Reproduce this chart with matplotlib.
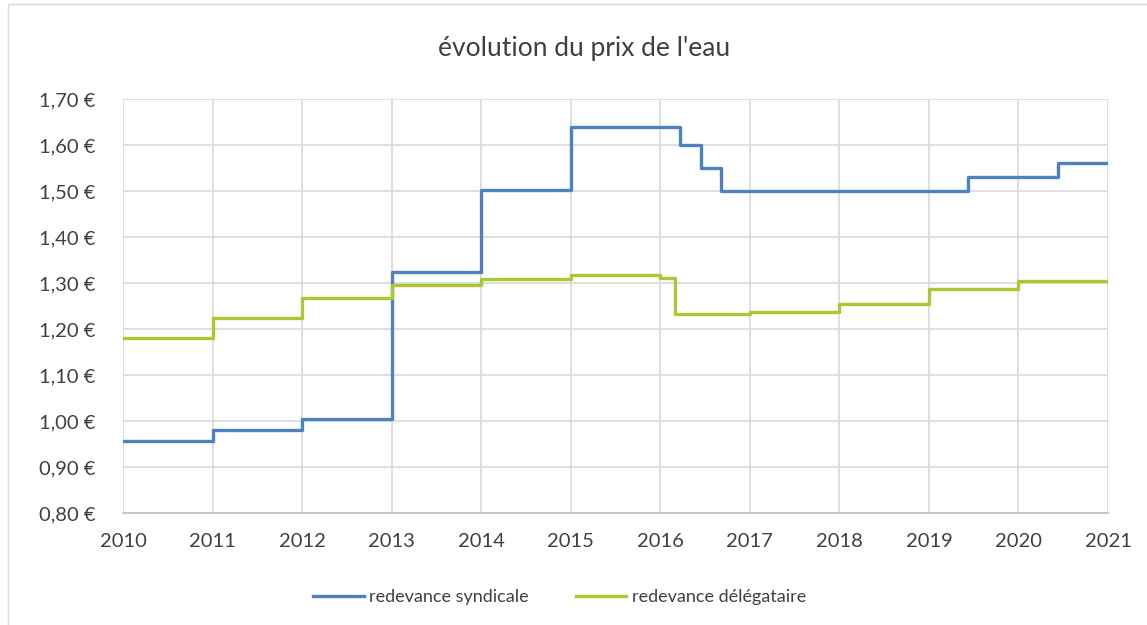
import matplotlib
matplotlib.use("Agg")
import matplotlib.pyplot as plt
from matplotlib.ticker import FuncFormatter, MultipleLocator
from matplotlib.patches import Rectangle

# step start dates (fraction of year) and price in EUR/m3
syndicale_x = [2010, 2011, 2012, 2013, 2014, 2015, 2016.22, 2016.45, 2016.68, 2019.44, 2020.44, 2021]
syndicale_y = [0.957, 0.98, 1.005, 1.325, 1.502, 1.64, 1.60, 1.55, 1.50, 1.53, 1.56, 1.56]

delegataire_x = [2010, 2011, 2012, 2013, 2014, 2015, 2016, 2016.16, 2017, 2018, 2019, 2020, 2021]
delegataire_y = [1.18, 1.223, 1.267, 1.296, 1.309, 1.317, 1.312, 1.233, 1.238, 1.254, 1.288, 1.304, 1.304]

years = list(range(2010, 2022))

plt.rcParams['font.family'] = ['Lato', 'DejaVu Sans']

fig = plt.figure(figsize=(11.47, 6.25), dpi=100)
ax = fig.add_axes([0.1072, 0.179, 0.8588, 0.6626])

ax.plot(syndicale_x, syndicale_y, drawstyle='steps-post', color='#4f81bd',
        lw=2.4, label='redevance syndicale')
ax.plot(delegataire_x, delegataire_y, drawstyle='steps-post', color='#a9c834',
        lw=2.4, label='redevance délégataire')

ax.set_xlim(2010, 2021)
ax.set_ylim(0.80, 1.70)
ax.set_xticks(years)
ax.yaxis.set_major_locator(MultipleLocator(0.1))
ax.yaxis.set_major_formatter(FuncFormatter(lambda v, p: f"{v:.2f} €".replace('.', ',')))

ax.grid(True, color='#d9d9d9', lw=1.2)
ax.set_axisbelow(True)
for s in ['top', 'right', 'left']:
    ax.spines[s].set_visible(False)
ax.spines['bottom'].set_color('#bfbfbf')
ax.spines['bottom'].set_linewidth(1.2)
ax.tick_params(length=0, labelsize=14.5, colors='#404040')
ax.tick_params(axis='y', pad=20)
ax.tick_params(axis='x', pad=14)

fig.text(0.509, 0.922, "évolution du prix de l'eau", ha='center', va='center',
         fontsize=19, color='#404040')

fig.legend(loc='center', bbox_to_anchor=(0.488, 0.045), ncol=2, frameon=False,
           fontsize=13, handlelength=2.8, columnspacing=2.6, labelcolor='#404040',
           handletextpad=0.3)

fig.patches.append(Rectangle((0.007, -0.01), 1.1, 1.004, transform=fig.transFigure,
                             fill=False, edgecolor='#d9d9d9', lw=1))

fig.savefig('out.png', dpi=100)
